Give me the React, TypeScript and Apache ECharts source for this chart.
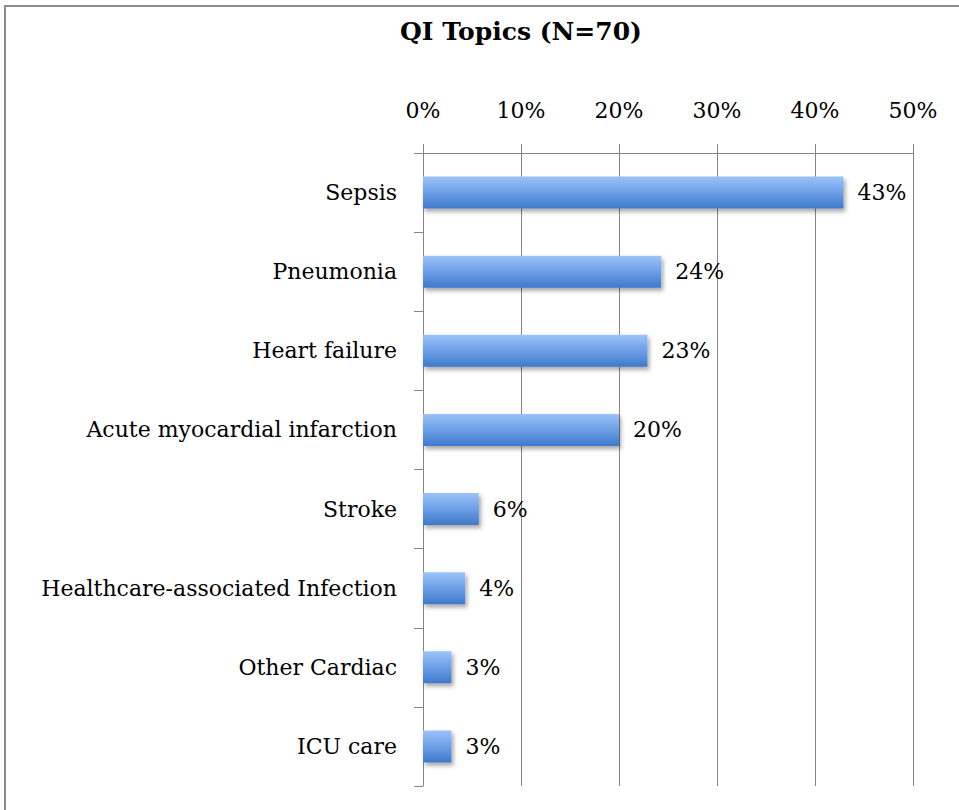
import React, { useEffect, useRef } from "react";
import * as echarts from "echarts";

const categories = [
  "Sepsis",
  "Pneumonia",
  "Heart failure",
  "Acute myocardial infarction",
  "Stroke",
  "Healthcare-associated Infection",
  "Other Cardiac",
  "ICU care",
];
const values = [42.9, 24.3, 22.9, 20.0, 5.7, 4.3, 2.9, 2.9];
const titleText = "QI Topics (N=70)";
const FONT = "'DejaVu Serif', 'Liberation Serif', serif";

export default function App() {
  const ref = useRef<HTMLDivElement>(null);
  useEffect(() => {
    document.body.style.margin = "0";
    const chart = echarts.init(ref.current!, null, { renderer: "svg" });
    chart.setOption({
      animation: false,
      backgroundColor: "#ffffff",
      textStyle: { fontFamily: FONT },
      title: {
        text: titleText,
        left: 516,
        top: 14,
        textAlign: "center",
        textStyle: { fontFamily: FONT, fontSize: 25, fontWeight: "bold", color: "#000" },
      },
      graphic: [
        {
          type: "rect",
          shape: { x: 5, y: 6, width: 1200, height: 1000 },
          style: { fill: "none", stroke: "#8c8c8c", lineWidth: 2 },
          silent: true,
        },
      ],
      grid: { left: 423, right: 46, top: 153, bottom: 24, containLabel: false },
      xAxis: {
        type: "value",
        position: "top",
        min: 0,
        max: 50,
        interval: 10,
        axisLine: { show: true, lineStyle: { color: "#868686", width: 1 } },
        axisTick: { show: true, length: 9, lineStyle: { color: "#868686" } },
        splitLine: { show: true, lineStyle: { color: "#868686", width: 1 } },
        axisLabel: {
          formatter: "{value}%",
          fontFamily: FONT,
          fontSize: 22,
          color: "#000",
          margin: 32,
        },
      },
      yAxis: {
        type: "category",
        data: categories,
        inverse: true,
        axisLine: { show: true, lineStyle: { color: "#868686", width: 1 } },
        axisTick: { show: true, length: 9, lineStyle: { color: "#868686" } },
        axisLabel: { fontFamily: FONT, fontSize: 22, color: "#000", margin: 26 },
      },
      series: [
        {
          type: "bar",
          data: values,
          barWidth: 32,
          itemStyle: {
            color: new echarts.graphic.LinearGradient(0, 0, 0, 1, [
              { offset: 0, color: "#9cc3fa" },
              { offset: 0.5, color: "#6c9fe6" },
              { offset: 1, color: "#3f79cb" },
            ]),
            shadowColor: "rgba(0,0,0,0.35)",
            shadowBlur: 4,
            shadowOffsetX: 2,
            shadowOffsetY: 3,
          },
          label: {
            show: true,
            position: "right",
            distance: 14,
            fontFamily: FONT,
            fontSize: 22,
            color: "#000",
            formatter: (p: any) => Math.round(p.value) + "%",
          },
        },
      ],
    });
    return () => chart.dispose();
  }, []);
  return <div ref={ref} style={{ width: 959, height: 810 }} />;
}
